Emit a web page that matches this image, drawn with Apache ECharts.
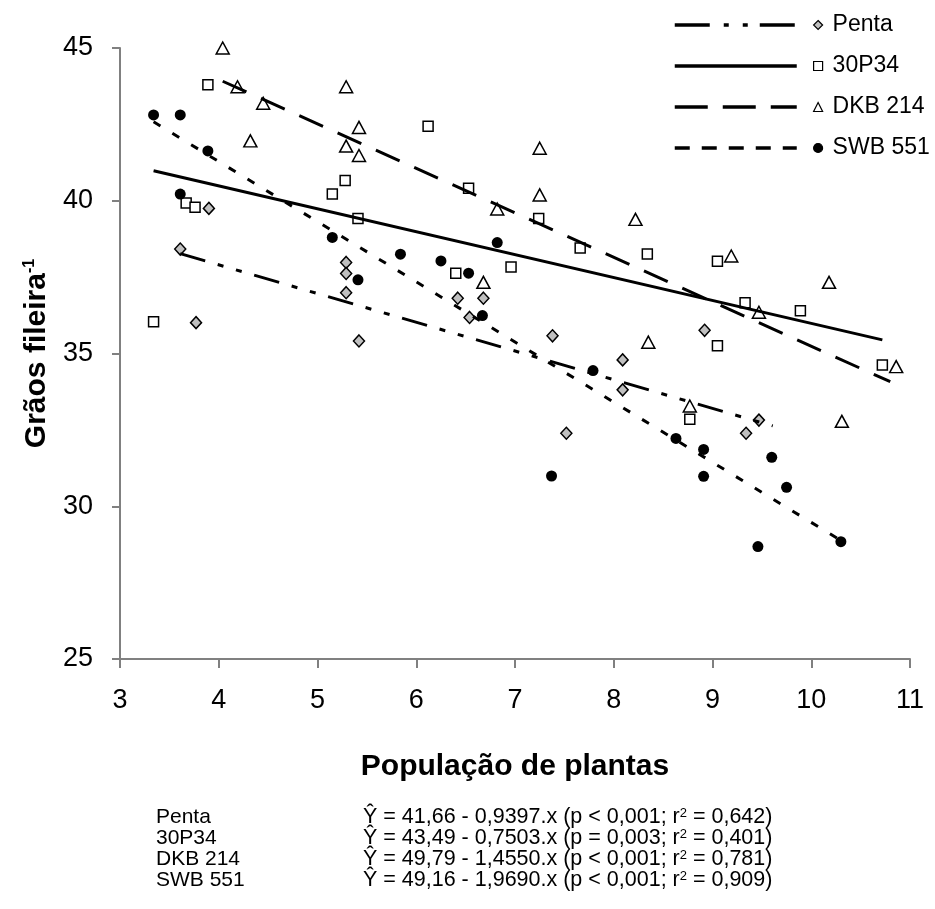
<!DOCTYPE html>
<html><head><meta charset="utf-8">
<script src="https://cdn.jsdelivr.net/npm/echarts@6/dist/echarts.min.js"></script>
<style>html,body{margin:0;padding:0;background:#fff}#c{width:935px;height:909px}</style>
</head><body><div id="c"></div>
<script>
// ---- data ----
const seriesNames = ['Penta', '30P34', 'DKB 214', 'SWB 551'];
const pentaX = [3.61, 3.90, 3.77, 5.29, 5.29, 5.29, 5.42, 6.42, 6.68, 6.54, 7.38, 7.52, 8.09, 8.09, 8.92, 9.34, 9.47];
const pentaY = [38.42, 39.75, 36.01, 37.98, 37.62, 36.99, 35.41, 36.81, 36.81, 36.18, 35.58, 32.39, 34.79, 33.81, 35.76, 32.39, 32.82];
const p30X = [3.34, 3.67, 3.76, 3.89, 5.15, 5.28, 5.41, 6.12, 6.40, 6.53, 6.96, 7.24, 7.66, 8.34, 8.77, 9.05, 9.05, 9.33, 9.89, 10.72];
const p30Y = [36.04, 39.93, 39.79, 43.80, 40.22, 40.66, 39.42, 42.44, 37.63, 40.41, 37.83, 39.42, 38.45, 38.26, 32.85, 38.02, 35.25, 36.66, 36.40, 34.62];
const dkbX = [4.04, 4.19, 4.45, 4.32, 5.29, 5.29, 5.42, 5.42, 6.68, 6.82, 7.25, 7.25, 8.22, 8.35, 8.77, 9.19, 9.47, 10.18, 10.31, 10.86];
const dkbY = [45.00, 43.73, 43.19, 41.96, 43.73, 41.79, 42.40, 41.48, 37.33, 39.73, 41.72, 40.19, 39.39, 35.37, 33.28, 38.19, 36.35, 37.33, 32.78, 34.57];
const swbX = [3.34, 3.61, 3.89, 3.61, 5.15, 5.41, 5.84, 6.25, 6.53, 6.67, 6.82, 7.37, 7.79, 8.63, 8.91, 8.91, 9.60, 9.75, 9.46, 10.30];
const swbY = [42.81, 42.81, 41.63, 40.22, 38.80, 37.41, 38.25, 38.03, 37.63, 36.24, 38.63, 30.99, 34.44, 32.22, 31.86, 30.98, 31.60, 30.62, 28.68, 28.84];
// regression equations shown under the chart
const fitIntercept = [41.66, 43.49, 49.79, 49.16];
const fitSlope = [-0.9397, -0.7503, -1.4550, -1.9690];
const fitXRange = [[3.61, 9.61], [3.34, 10.72], [4.04, 10.80], [3.34, 10.30]];
const xTicks = [3, 4, 5, 6, 7, 8, 9, 10, 11];
const yTicks = [25, 30, 35, 40, 45];
const xTitle = 'População de plantas';
const yTitle = 'Grãos fileira';
const eqNames = ['Penta', '30P34', 'DKB 214', 'SWB 551'];
const eqTexts = [
  'Ŷ = 41,66 - 0,9397.x (p < 0,001; r{sup|2} = 0,642)',
  'Ŷ = 43,49 - 0,7503.x (p = 0,003; r{sup|2} = 0,401)',
  'Ŷ = 49,79 - 1,4550.x (p < 0,001; r{sup|2} = 0,781)',
  'Ŷ = 49,16 - 1,9690.x (p < 0,001; r{sup|2} = 0,909)'
];

// ---- styles ----
const FONT = "'Liberation Sans', Arial, sans-serif";
const pointXs = [pentaX, p30X, dkbX, swbX];
const pointYs = [pentaY, p30Y, dkbY, swbY];
const symbols = ['diamond', 'rect', 'triangle', 'circle'];
const symSizes = [[11, 12], 10, [13, 12], 11];
const fills = ['#c0c0c0', '#ffffff', '#ffffff', '#000000'];
const dashes = [[26, 13, 6, 13, 6, 13], 'solid', [26, 16], [8, 14]];
const legendDashes = [[35, 14, 5, 14, 5, 12], 'solid', [33, 15], [15, 12]];
const fitNames = seriesNames.map(n => n + ' (ajuste)');

const series = [];
seriesNames.forEach((name, i) => {
  series.push({
    name: name, type: 'scatter', z: 2,
    symbol: symbols[i], symbolSize: symSizes[i],
    itemStyle: { color: fills[i], borderColor: '#000', borderWidth: i === 3 ? 0 : 1.5, opacity: 1 },
    data: pointXs[i].map((x, k) => [x, pointYs[i][k]]),
    silent: true
  });
});
seriesNames.forEach((name, i) => {
  const r = fitXRange[i];
  series.push({
    name: fitNames[i], type: 'line', z: 3, symbol: 'none', silent: true,
    lineStyle: { color: '#000', width: 3, type: dashes[i], cap: 'butt' },
    data: r.map(x => [x, fitIntercept[i] + fitSlope[i] * x])
  });
});

const axisLineStyle = { color: '#808080', width: 2 };
const chart = echarts.init(document.getElementById('c'), null, { renderer: 'canvas' });
chart.setOption({
  animation: false,
  backgroundColor: '#ffffff',
  textStyle: { fontFamily: FONT },
  grid: { left: 120, right: 25, top: 48, bottom: 250, containLabel: false },
  xAxis: {
    type: 'value', min: xTicks[0], max: xTicks[xTicks.length - 1], interval: 1,
    name: xTitle, nameLocation: 'middle', nameGap: 93,
    nameTextStyle: { fontSize: 30, fontWeight: 'bold', color: '#000', fontFamily: FONT },
    axisLine: { show: true, onZero: false, lineStyle: axisLineStyle },
    axisTick: { show: true, length: 9, lineStyle: axisLineStyle },
    axisLabel: { fontSize: 27, color: '#000', margin: 28, fontFamily: FONT },
    splitLine: { show: false }
  },
  yAxis: {
    type: 'value', min: yTicks[0], max: yTicks[yTicks.length - 1], interval: 5,
    name: yTitle + '{sup|-1}', nameLocation: 'middle', nameGap: 61, nameRotate: 90,
    nameTextStyle: { fontSize: 30, fontWeight: 'bold', color: '#000', fontFamily: FONT,
      rich: { sup: { fontSize: 16, fontWeight: 'bold', color: '#000', verticalAlign: 'top', fontFamily: FONT } } },
    axisLine: { show: true, onZero: false, lineStyle: axisLineStyle },
    axisTick: { show: true, length: 8, lineStyle: axisLineStyle },
    axisLabel: { fontSize: 27, color: '#000', margin: 27, fontFamily: FONT },
    splitLine: { show: false }
  },
  legend: [
    {
      orient: 'vertical', left: 673, top: 12, padding: 0,
      itemWidth: 122, itemHeight: 14, itemGap: 15, selectedMode: false,
      formatter: () => ' ',
      textStyle: { fontSize: 23, lineHeight: 26, fontFamily: FONT },
      itemStyle: { color: 'rgba(0,0,0,0)', borderWidth: 0 },
      lineStyle: { width: 3.5, color: '#000' },
      data: fitNames.map((n, i) => ({ name: n, lineStyle: { type: legendDashes[i], width: 3.5, cap: 'butt' } }))
    },
    {
      orient: 'vertical', left: 813, top: 12, padding: 0,
      itemWidth: 9, itemHeight: 9, itemGap: 15, selectedMode: false,
      textStyle: { fontSize: 23, lineHeight: 26, color: '#000', fontFamily: FONT, padding: [0, 0, 0, 5] },
      itemStyle: { borderWidth: 1.2 },
      data: seriesNames
    }
  ],
  title: [
    {
      text: eqNames.join('\n'), left: 156, top: 807, padding: 0,
      textStyle: { fontSize: 21, fontWeight: 'normal', lineHeight: 21, color: '#000', fontFamily: FONT }
    },
    {
      text: eqTexts.join('\n'), left: 363, top: 807, padding: 0,
      textStyle: { fontSize: 21.5, fontWeight: 'normal', lineHeight: 21, color: '#000', fontFamily: FONT,
        rich: { sup: { fontSize: 13, color: '#000', verticalAlign: 'top', lineHeight: 21, fontFamily: FONT } } }
    }
  ],
  series: series
});
</script></body></html>
